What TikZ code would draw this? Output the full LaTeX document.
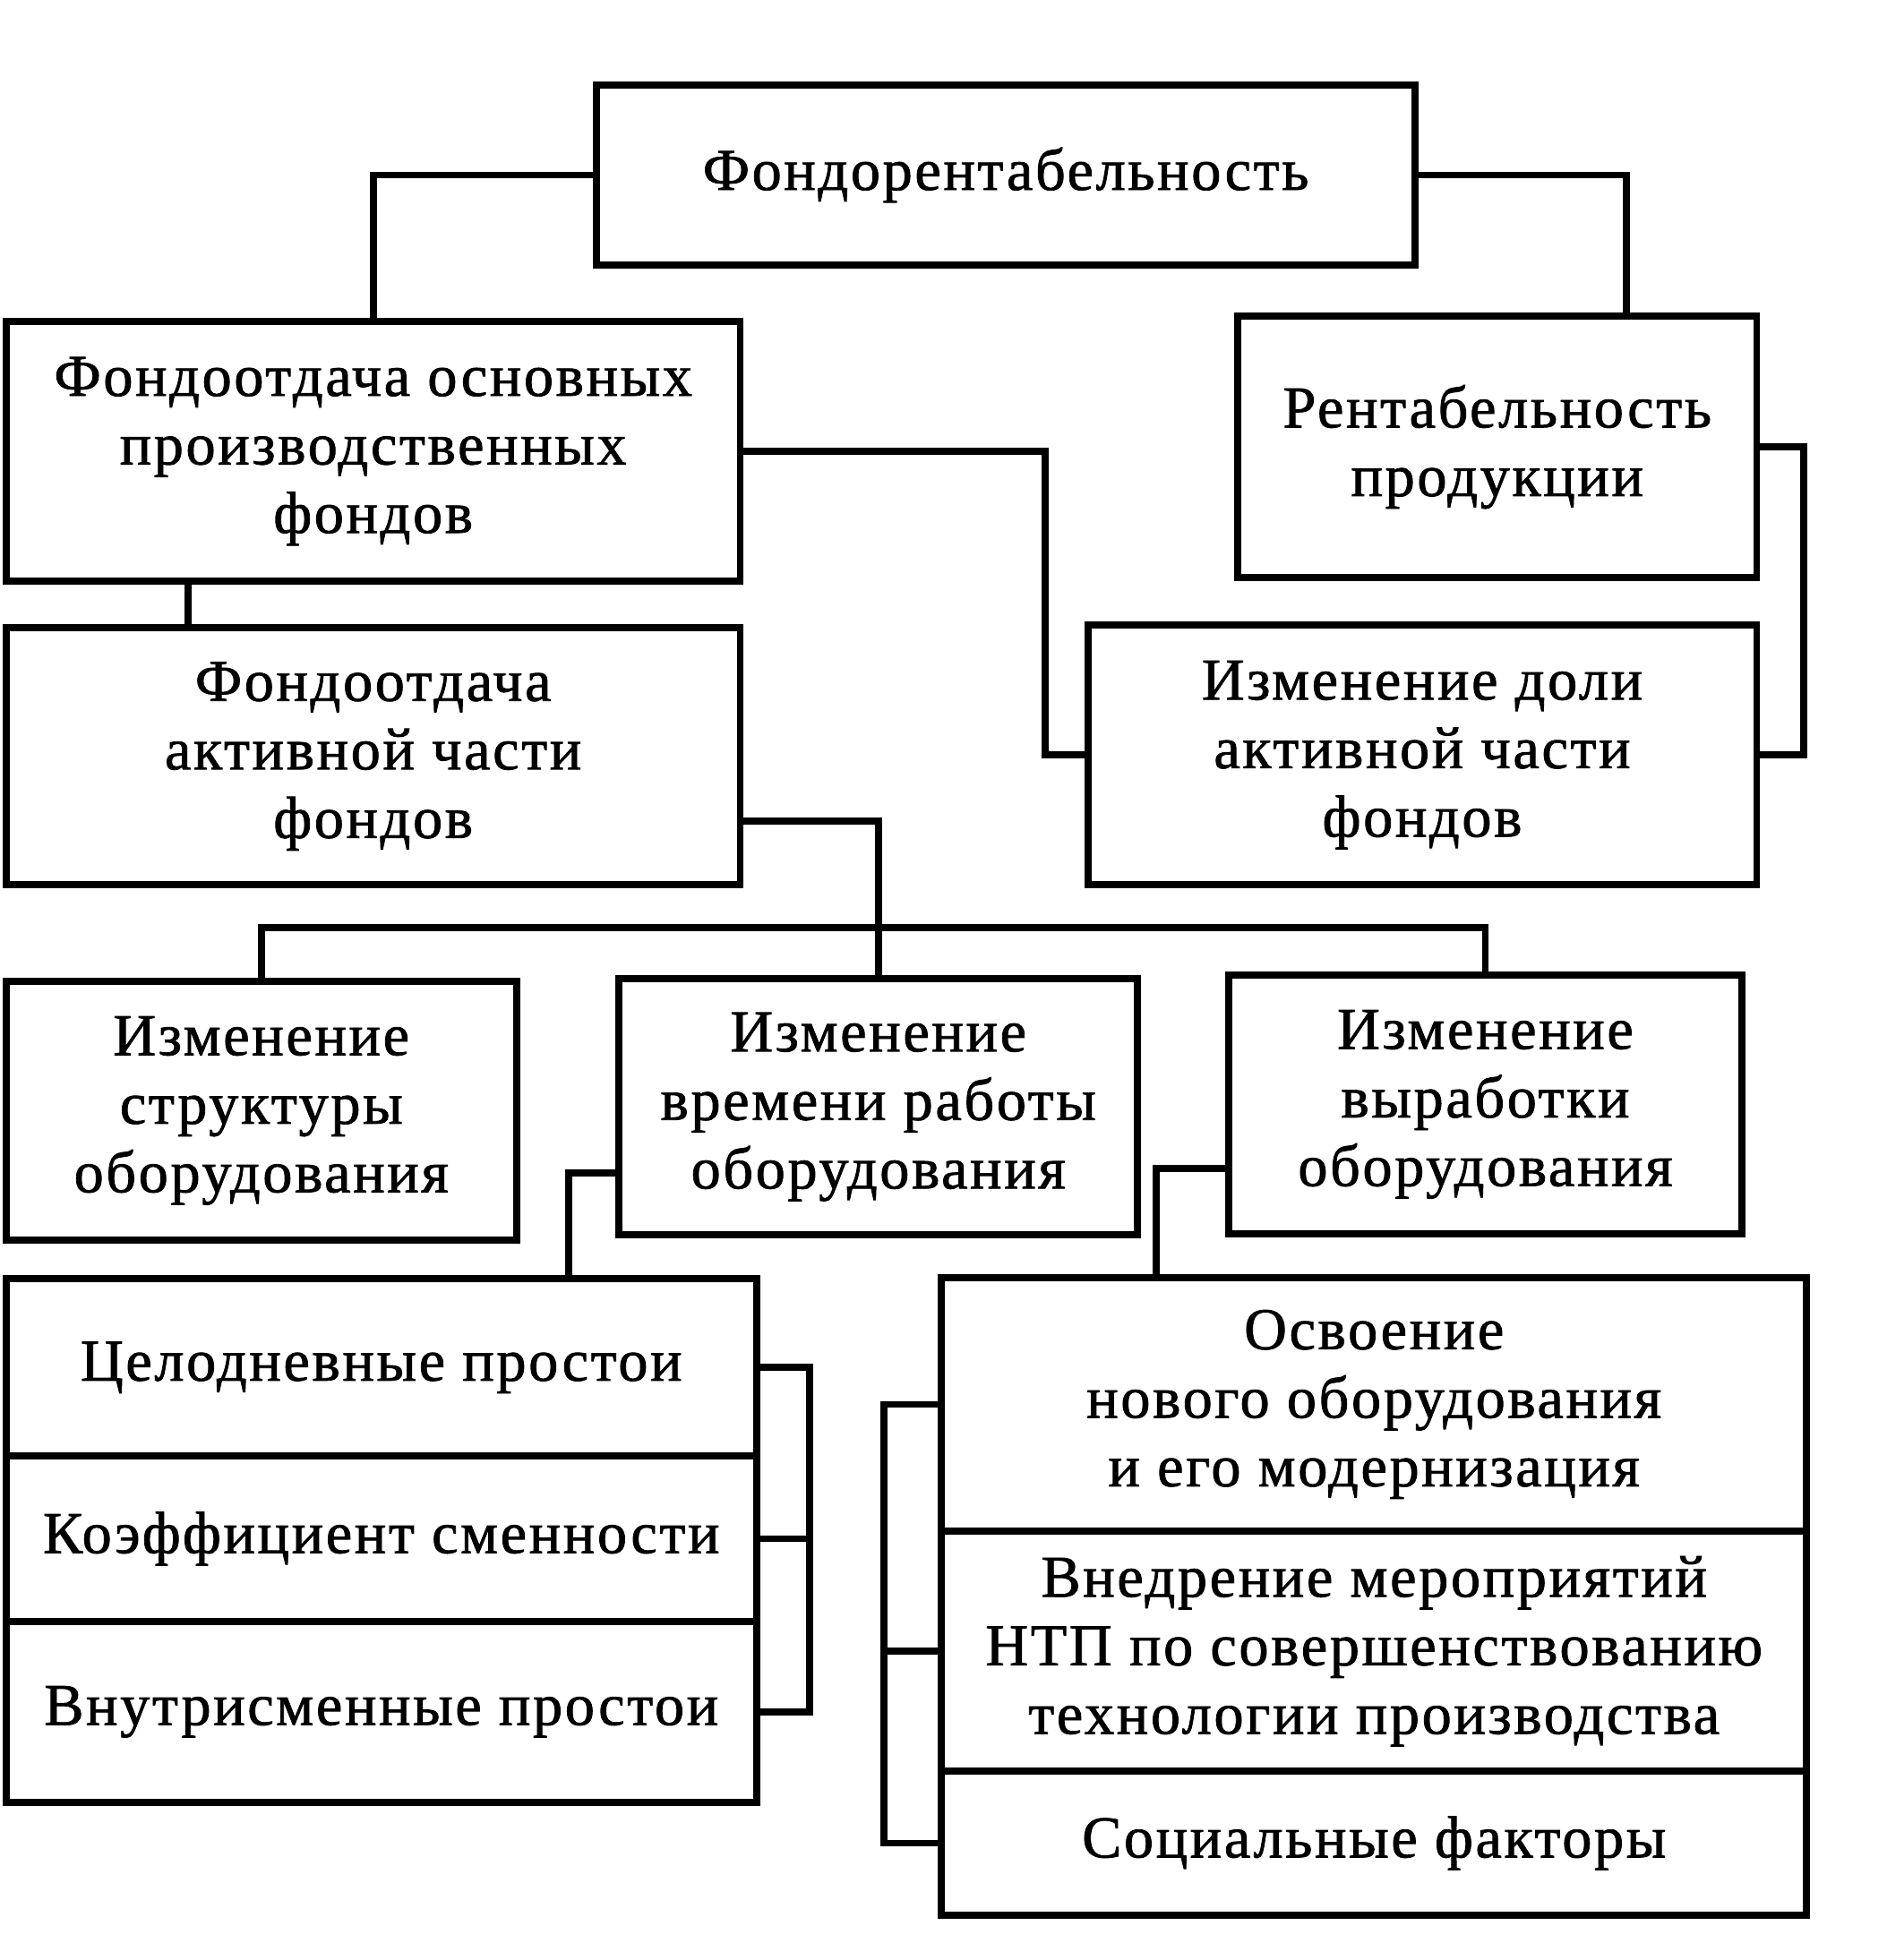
\documentclass[tikz,border=0pt]{standalone}
\usepackage{fontspec}
\setmainfont[LetterSpace=4,FakeBold=1.2]{Liberation Serif}
\tikzset{
  box/.style={draw, line width=1.6pt, align=center, inner sep=0pt,
    font=\fontsize{13.5}{15.6}\selectfont},
  link/.style={line width=1.6pt}
}
\begin{document}
\begin{tikzpicture}
  \useasboundingbox (0,0) rectangle (15.09,-15.68);
  \node[box, minimum width=6.55cm, minimum height=1.44cm] (FR) at (8.045,-1.40) {Фондорентабельность};
  \node[box, minimum width=5.87cm, minimum height=2.08cm] (FO) at (2.985,-3.61) {Фондоотдача основных\\производственных\\фондов};
  \node[box, minimum width=4.15cm, minimum height=2.09cm] (RP) at (11.975,-3.575) {Рентабельность\\продукции};
  \node[box, minimum width=5.87cm, minimum height=2.06cm] (FA) at (2.985,-6.05) {Фондоотдача\\активной части\\фондов};
  \node[box, minimum width=5.35cm, minimum height=2.08cm] (ID) at (11.375,-6.04) {Изменение доли\\активной части\\фондов};
  \node[box, minimum width=4.08cm, minimum height=2.07cm] (IS) at (2.09,-8.885) {Изменение\\структуры\\оборудования};
  \node[box, minimum width=4.15cm, minimum height=2.05cm] (IV) at (7.025,-8.855) {Изменение\\времени работы\\оборудования};
  \node[box, minimum width=4.10cm, minimum height=2.07cm] (IW) at (11.88,-8.835) {Изменение\\выработки\\оборудования};
  \node[box, minimum width=6.00cm, minimum height=1.42cm] (CP) at (3.05,-10.94) {Целодневные простои};
  \node[box, minimum width=6.00cm, minimum height=1.32cm] (KS) at (3.05,-12.31) {Коэффициент сменности};
  \node[box, minimum width=6.00cm, minimum height=1.45cm] (VP) at (3.05,-13.695) {Внутрисменные простои};
  \node[box, minimum width=6.92cm, minimum height=2.03cm] (ON) at (10.99,-11.235) {Освоение\\нового оборудования\\и его модернизация};
  \node[box, minimum width=6.92cm, minimum height=1.92cm] (VM) at (10.99,-13.21) {Внедрение мероприятий\\НТП по совершенствованию\\технологии производства};
  \node[box, minimum width=6.92cm, minimum height=1.15cm] (SF) at (10.99,-14.745) {Социальные факторы};
  % upper links
  \draw[link] (FR.west) -| (FO.north);
  \draw[link] (FR.east) -| ([xshift=1.03cm]RP.north);
  \draw[link] (FO.east) -- ++(2.41,0) |- (ID.west);
  \draw[link] (RP.east) -- ++(0.35,0) |- (ID.east);
  \draw[link] ([xshift=-1.48cm]FO.south) -- ([xshift=-1.48cm]FA.north);
  % middle links
  \draw[link] ([yshift=-0.52cm]FA.east) -| (IV.north);
  \draw[link] (IS.north) -- ++(0,0.40) -| (IW.north);
  \draw[link] ([yshift=-0.53cm]IV.west) -| ([xshift=1.5cm]CP.north);
  \draw[link] ([yshift=-0.515cm]IW.west) -| ([xshift=-1.74cm]ON.north);
  % brackets
  \draw[link] (CP.east) -- ++(0.4,0) |- (VP.east);
  \draw[link] (KS.east) -- ++(0.4,0);
  \draw[link] (ON.west) -- ++(-0.43,0) |- (SF.west);
  \draw[link] (VM.west) -- ++(-0.43,0);
\end{tikzpicture}
\end{document}
